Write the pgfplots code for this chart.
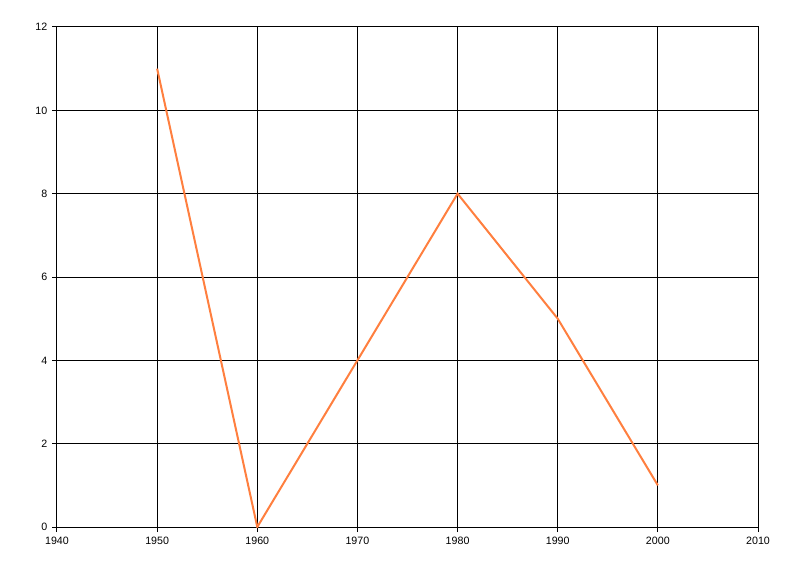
\documentclass[border=0pt]{standalone}
\usepackage{pgfplots}
\pgfplotsset{compat=1.18}
\usepackage{fontspec}
\setmainfont{Liberation Sans}
\definecolor{lineorange}{RGB}{255,127,63}
\begin{document}
\begin{tikzpicture}
\useasboundingbox (-42.75pt,-36.75pt) rectangle (557.25pt,395.25pt);
\begin{axis}[
  scale only axis,
  width=525.75pt, height=375pt,
  xmin=1940, xmax=2010, ymin=0, ymax=12,
  xtick={1940,1950,...,2010},
  ytick={0,2,...,12},
  grid=major,
  grid style={black, line width=0.75pt},
  axis line style={black, line width=0.75pt},
  tick align=outside,
  major tick length=3.75pt,
  tick style={black, line width=0.75pt},
  xticklabel style={font=\fontsize{8}{9}\selectfont, /pgf/number format/1000 sep={}},
  yticklabel style={font=\fontsize{8}{9}\selectfont},
  /pgf/number format/assume math mode=true,
  /pgf/number format/1000 sep={},
  xtick pos=bottom, ytick pos=left,
]
\addplot[lineorange, line width=1.5pt, mark=none] coordinates {
  (1950,11) (1960,0) (1970,4) (1980,8) (1990,5) (2000,1)
};
\end{axis}
\end{tikzpicture}
\end{document}
